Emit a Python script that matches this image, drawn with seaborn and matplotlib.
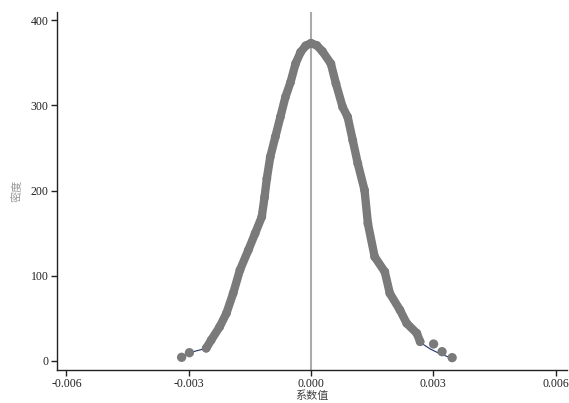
import matplotlib
matplotlib.use("Agg")
import matplotlib.pyplot as plt
import seaborn as sns
import pandas as pd

# Main (dense) kernel-density points
coef_main = [-0.002571, -0.002447, -0.002239, -0.002075, -0.001909, -0.001743,
             -0.001537, -0.001371, -0.001207, -0.001140, -0.001083, -0.000999,
             -0.000875, -0.000751, -0.000627, -0.000503, -0.000379, -0.000255,
             -0.000130, 0.0, 0.000140, 0.000280, 0.000488, 0.000612, 0.000776,
             0.000900, 0.001024, 0.001148, 0.001314, 0.001396, 0.001562,
             0.001810, 0.001934, 0.002182, 0.002348, 0.002596, 0.002678]
dens_main = [14.9, 24.6, 40.2, 55.9, 79.4, 106.7,
             130.1, 149.7, 169.2, 192.0, 214.0, 239.5,
             263.0, 286.4, 309.8, 327.0, 349.0, 362.5,
             370.0, 373.0, 370.5, 363.5, 349.0, 325.6, 298.1,
             286.4, 259.1, 231.8, 200.5, 161.4, 122.3,
             104.7, 79.4, 59.8, 44.2, 32.5, 22.6]

# Isolated tail points
coef_tail = [-0.003173, -0.002982, 0.003007, 0.003215, 0.003463]
dens_tail = [4.3, 9.7, 19.9, 10.9, 3.9]

# Thin fitted line in the tails
coef_fit_left = [-0.003173, -0.002982, -0.002571]
dens_fit_left = [4.3, 9.7, 14.9]
coef_fit_right = [0.002678, 0.002925, 0.003173, 0.003463]
dens_fit_right = [21.1, 14.1, 8.2, 3.2]

x_ticks = [-0.006, -0.003, 0.0, 0.003, 0.006]
x_tick_labels = ["-0.006", "-0.003", "0.000", "0.003", "0.006"]
y_ticks = [0, 100, 200, 300, 400]

sns.set_theme(style="white")
plt.rcParams["font.family"] = ["Liberation Serif", "Noto Sans CJK SC", "DejaVu Sans"]

fig = plt.figure(figsize=(5.69, 4.03), dpi=100)
ax = fig.add_axes([57 / 569, 33 / 403, 510 / 569, 358.3 / 403])

main_df = pd.DataFrame({"coef": coef_main, "dens": dens_main})
tail_df = pd.DataFrame({"coef": coef_tail, "dens": dens_tail})
fit_df = pd.DataFrame({"coef": coef_fit_left + coef_main + coef_fit_right,
                       "dens": dens_fit_left + dens_main + dens_fit_right})

ax.axvline(0, color="#ababab", lw=1.5, zorder=1)

sns.lineplot(data=fit_df, x="coef", y="dens", ax=ax, color="#1f2f66", lw=0.8,
             sort=False, zorder=2)
sns.lineplot(data=main_df, x="coef", y="dens", ax=ax, color="#7a7a7a", lw=6.0,
             sort=False, solid_capstyle="round", solid_joinstyle="round", zorder=3)
sns.scatterplot(data=main_df, x="coef", y="dens", ax=ax, color="#7a7a7a", s=40,
                edgecolor="none", zorder=4)
sns.scatterplot(data=tail_df, x="coef", y="dens", ax=ax, color="#7a7a7a", s=45,
                edgecolor="none", zorder=5)

ax.set_xlim(-0.00623, 0.00628)
ax.set_ylim(-10.6, 410)
ax.set_xticks(x_ticks)
ax.set_xticklabels(x_tick_labels)
ax.set_yticks(y_ticks)

for side in ["top", "right"]:
    ax.spines[side].set_visible(False)
for side in ["left", "bottom"]:
    ax.spines[side].set_color("#222222")
    ax.spines[side].set_linewidth(1.0)

ax.tick_params(axis="both", which="major", direction="out", length=4, width=1.0,
               color="#222222", labelsize=8.5, labelcolor="#222222", pad=2,
               left=True, bottom=True)

ax.set_xlabel("系数值", fontsize=8, color="#444444", labelpad=0,
              family=["Noto Sans CJK SC", "DejaVu Sans"])
ax.set_ylabel("密度", fontsize=8, color="#999999", labelpad=6,
              family=["Noto Sans CJK SC", "DejaVu Sans"])

fig.savefig("out.png", dpi=100)
